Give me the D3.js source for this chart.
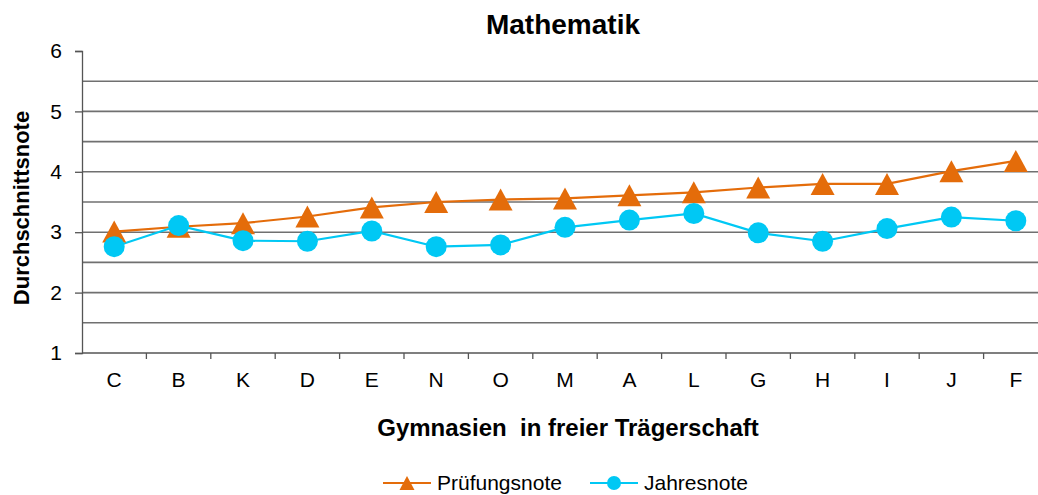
<!DOCTYPE html>
<html>
<head>
<meta charset="utf-8">
<script src="https://cdn.jsdelivr.net/npm/d3@7"></script>
<style>
  html, body { margin: 0; padding: 0; background: #fff; }
  svg { display: block; font-family: "Liberation Sans", Arial, sans-serif; }
</style>
</head>
<body>
<div id="chart"></div>
<script>
(function () {
    // Data
    const schools = ['C', 'B', 'K', 'D', 'E', 'N', 'O', 'M', 'A', 'L', 'G', 'H', 'I', 'J', 'F'];
    const pruefungsnote = [3.01, 3.09, 3.15, 3.26, 3.41, 3.50, 3.54, 3.56, 3.61, 3.66, 3.74, 3.80, 3.80, 4.01, 4.18];
    const jahresnote = [2.76, 3.11, 2.86, 2.85, 3.02, 2.76, 2.79, 3.08, 3.20, 3.31, 2.99, 2.85, 3.06, 3.25, 3.19];
    const yTicks = [1, 2, 3, 4, 5, 6];
    const gridValues = [1.5, 2, 2.5, 3, 3.5, 4, 4.5, 5, 5.5];

    const colors = { pruef: '#E46C0A', jahr: '#00C8F4' };

    const width = 1038, height = 495;
    const left = 82, right = 1048, top = 51, bottom = 353;

    const svg = d3.select('#chart').append('svg')
        .attr('width', width)
        .attr('height', height);

    const x = d3.scaleBand().domain(schools).range([left, right]);
    const y = d3.scaleLinear().domain([1, 6]).range([bottom, top]);

    // Gridlines
    svg.append('g')
        .selectAll('line')
        .data(gridValues)
        .join('line')
        .attr('x1', left).attr('x2', right)
        .attr('y1', d => y(d)).attr('y2', d => y(d))
        .attr('stroke', '#707070')
        .attr('stroke-width', 1.6);

    // Y axis
    const yAxis = svg.append('g')
        .attr('transform', `translate(${left},0)`)
        .call(d3.axisLeft(y).tickValues(yTicks).tickSize(7).tickPadding(13).tickFormat(d3.format('d')));
    yAxis.attr('font-size', null).attr('font-family', null);
    yAxis.select('.domain').attr('stroke', '#555').attr('stroke-width', 1.3);
    yAxis.selectAll('.tick line').attr('stroke', '#555').attr('stroke-width', 1.3);
    yAxis.selectAll('.tick text')
        .style('font-size', '21px')
        .attr('fill', '#000');

    // X axis: ticks sit between categories
    const xAxis = svg.append('g')
        .attr('transform', `translate(0,${bottom})`);
    xAxis.append('line')
        .attr('x1', left).attr('x2', right)
        .attr('stroke', '#555').attr('stroke-width', 1.3);
    xAxis.selectAll('line.tk')
        .data(schools.slice(1))
        .join('line')
        .attr('class', 'tk')
        .attr('x1', d => x(d)).attr('x2', d => x(d))
        .attr('y1', 0).attr('y2', 6)
        .attr('stroke', '#555').attr('stroke-width', 1.3);
    xAxis.selectAll('text')
        .data(schools)
        .join('text')
        .attr('x', d => x(d) + x.bandwidth() / 2)
        .attr('y', 34)
        .attr('text-anchor', 'middle')
        .style('font-size', '21px')
        .attr('fill', '#000')
        .text(d => d);

    // Series
    const cx = (d, i) => x(schools[i]) + x.bandwidth() / 2;
    const line = d3.line().x(cx).y(d => y(d));

    svg.append('path')
        .datum(pruefungsnote)
        .attr('d', line)
        .attr('fill', 'none')
        .attr('stroke', colors.pruef)
        .attr('stroke-width', 2.2);

    svg.append('path')
        .datum(jahresnote)
        .attr('d', line)
        .attr('fill', 'none')
        .attr('stroke', colors.jahr)
        .attr('stroke-width', 2.2);

    const tri = 'M0,-11L12,11L-12,11Z';

    svg.append('g')
        .selectAll('path')
        .data(pruefungsnote)
        .join('path')
        .attr('d', tri)
        .attr('transform', (d, i) => `translate(${cx(d, i)},${y(d)})`)
        .attr('fill', colors.pruef);

    svg.append('g')
        .selectAll('circle')
        .data(jahresnote)
        .join('circle')
        .attr('cx', cx)
        .attr('cy', d => y(d))
        .attr('r', 10.5)
        .attr('fill', colors.jahr);

    // Titles
    svg.append('text')
        .attr('x', 563).attr('y', 34)
        .attr('text-anchor', 'middle')
        .style('font-size', '28px')
        .attr('font-weight', 'bold')
        .text('Mathematik');

    svg.append('text')
        .attr('transform', 'translate(29,208) rotate(-90)')
        .attr('text-anchor', 'middle')
        .style('font-size', '22px')
        .attr('font-weight', 'bold')
        .text('Durchschnittsnote');

    svg.append('text')
        .attr('x', 568).attr('y', 436)
        .attr('text-anchor', 'middle')
        .style('font-size', '24px')
        .attr('font-weight', 'bold')
        .style('white-space', 'pre')
        .text('Gymnasien  in freier Trägerschaft');

    // Legend
    const legend = svg.append('g').attr('transform', 'translate(0,483)');
    const items = [
        { label: 'Prüfungsnote', color: colors.pruef, shape: 'tri', x0: 383 },
        { label: 'Jahresnote', color: colors.jahr, shape: 'circle', x0: 590 }
    ];
    items.forEach(it => {
        const g = legend.append('g').attr('transform', `translate(${it.x0},0)`);
        g.append('line')
            .attr('x1', 0).attr('x2', 48)
            .attr('stroke', it.color).attr('stroke-width', 2.2);
        if (it.shape === 'tri') {
            g.append('path').attr('d', 'M0,-7L7.5,7L-7.5,7Z')
                .attr('transform', 'translate(24,0)')
                .attr('fill', it.color);
        } else {
            g.append('circle').attr('cx', 24).attr('r', 7).attr('fill', it.color);
        }
        g.append('text')
            .attr('x', 54).attr('y', 6.5)
            .style('font-size', '21px')
            .attr('fill', '#000')
            .text(it.label);
    });
})();
</script>
</body>
</html>
